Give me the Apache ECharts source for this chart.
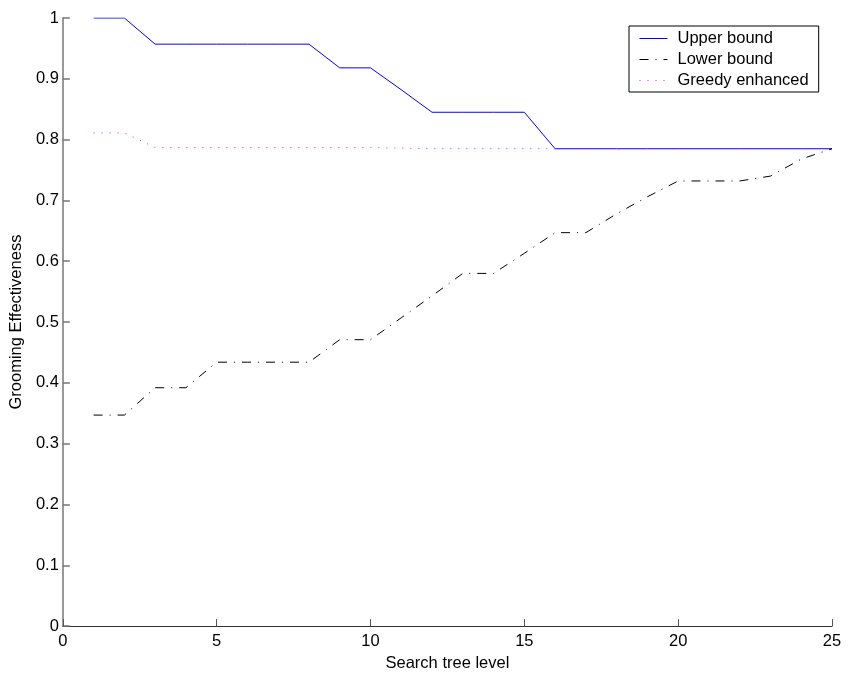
<!DOCTYPE html>
<html>
<head>
<meta charset="utf-8">
<script src="https://cdn.jsdelivr.net/npm/echarts@6/dist/echarts.min.js"></script>
<style>
  html, body { margin: 0; padding: 0; background: #fff; }
  #chart { width: 848px; height: 677px; }
</style>
</head>
<body>
<div id="chart"></div>
<script>
// Search tree levels 1..25
const levels = [1, 2, 3, 4, 5, 6, 7, 8, 9, 10, 11, 12, 13, 14, 15, 16, 17, 18, 19, 20, 21, 22, 23, 24, 25];

const upperBound = [1.000, 1.000, 0.957, 0.957, 0.957, 0.957, 0.957, 0.957, 0.918, 0.918,
                    0.882, 0.845, 0.845, 0.845, 0.845, 0.785, 0.785, 0.785, 0.785, 0.785,
                    0.785, 0.785, 0.785, 0.785, 0.785];

const lowerBound = [0.347, 0.347, 0.392, 0.392, 0.434, 0.434, 0.434, 0.434, 0.471, 0.471,
                    0.507, 0.543, 0.580, 0.580, 0.613, 0.647, 0.647, 0.678, 0.706, 0.732,
                    0.732, 0.732, 0.740, 0.768, 0.785];

const greedyEnhanced = [0.811, 0.811, 0.787, 0.787, 0.787, 0.787, 0.787, 0.787, 0.787, 0.787,
                        0.786, 0.785, 0.785, 0.785, 0.785, 0.785, 0.785, 0.785, 0.785, 0.785,
                        0.785, 0.785, 0.785, 0.785, 0.785];

const pairs = (ys) => levels.map((x, i) => [x, ys[i]]);

const FONT = 'Liberation Sans, Arial, Helvetica, sans-serif';

const chart = echarts.init(document.getElementById('chart'), null, { renderer: 'canvas' });

chart.setOption({
  animation: false,
  backgroundColor: '#ffffff',
  textStyle: { fontFamily: FONT },
  grid: { left: 62, right: 16, top: 18, bottom: 49, containLabel: false },
  legend: {
    orient: 'vertical',
    left: 629,
    top: 26,
    padding: [4, 10, 3, 10],
    itemGap: 4,
    itemWidth: 28,
    itemHeight: 14,
    borderColor: '#000',
    borderWidth: 1,
    backgroundColor: '#fff',
    // legend keys are plain line samples, no marker
    itemStyle: { opacity: 0 },
    lineStyle: { width: 1 },
    textStyle: { fontFamily: FONT, fontSize: 16.5, color: '#000', padding: [0, 0, 0, 5] },
    data: ['Upper bound', 'Lower bound', 'Greedy enhanced']
  },
  xAxis: {
    type: 'value',
    min: 0,
    max: 25,
    interval: 5,
    name: 'Search tree level',
    nameLocation: 'middle',
    nameGap: 27,
    nameTextStyle: { fontFamily: FONT, fontSize: 16.5, color: '#000' },
    axisLine: { show: true, onZero: false, lineStyle: { color: '#333', width: 1.2 } },
    axisTick: { show: true, inside: true, length: 7, lineStyle: { color: '#555' } },
    axisLabel: { fontFamily: FONT, fontSize: 16.5, color: '#000', margin: 7 },
    splitLine: { show: false }
  },
  yAxis: {
    type: 'value',
    min: 0,
    max: 1,
    interval: 0.1,
    name: 'Grooming Effectiveness',
    nameLocation: 'middle',
    nameGap: 36,
    nameRotate: 90,
    nameTextStyle: { fontFamily: FONT, fontSize: 16.5, color: '#000' },
    axisLine: { show: true, onZero: false, lineStyle: { color: '#777', width: 1.5 } },
    axisTick: { show: true, inside: true, length: 7, lineStyle: { color: '#777', width: 1.5 } },
    axisLabel: { fontFamily: FONT, fontSize: 16.5, color: '#000', margin: 4 },
    splitLine: { show: false }
  },
  series: [
    {
      name: 'Upper bound',
      type: 'line',
      data: pairs(upperBound),
      showSymbol: false,
      symbol: 'none',
      lineStyle: { color: '#0000ff', width: 1 },
      itemStyle: { color: '#0000ff' },
      z: 2
    },
    {
      name: 'Lower bound',
      type: 'line',
      data: pairs(lowerBound),
      showSymbol: false,
      symbol: 'none',
      lineStyle: { color: '#000000', width: 1, type: [9, 7, 1, 7] },
      itemStyle: { color: '#000000' },
      z: 3
    },
    {
      name: 'Greedy enhanced',
      type: 'line',
      data: pairs(greedyEnhanced),
      showSymbol: false,
      symbol: 'none',
      lineStyle: { color: '#ff00ff', width: 1, type: [1, 7] },
      itemStyle: { color: '#ff00ff' },
      z: 4
    }
  ]
});
</script>
</body>
</html>
